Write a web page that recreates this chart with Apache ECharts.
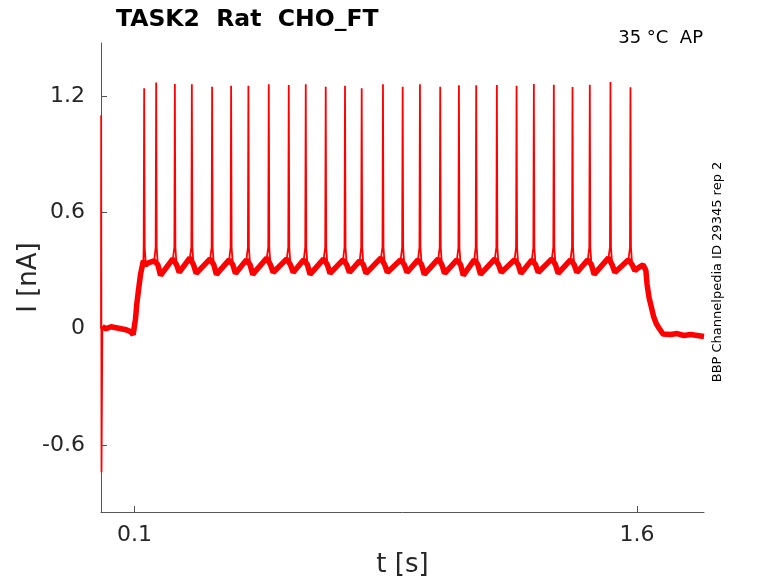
<!DOCTYPE html>
<html style="height: 100%">
<head>
    <meta charset="utf-8">
    <title>TASK2 Rat CHO_FT</title>
    <script src="https://cdn.jsdelivr.net/npm/echarts@6/dist/echarts.min.js"></script>
</head>
<body style="height: 100%; margin: 0; background: #fff">
<div id="chart1" style="width: 778px; height: 583px"></div>

<script type="text/javascript">
    // spike times [s] and peak currents [nA]
    var spikeTimes = [0.1289, 0.1647, 0.2205, 0.2712, 0.3317, 0.3884, 0.4400, 0.5008, 0.5605,
        0.6112, 0.6708, 0.7284, 0.7782, 0.8417, 0.9005, 0.9521, 1.0126, 1.0684, 1.1200,
        1.1817, 1.2405, 1.2921, 1.3517, 1.4075, 1.4591, 1.5208, 1.5805];
    var spikePeaks = [1.240, 1.269, 1.262, 1.260, 1.248, 1.253, 1.253, 1.260, 1.257,
        1.260, 1.248, 1.253, 1.240, 1.260, 1.248, 1.260, 1.248, 1.255, 1.255,
        1.257, 1.252, 1.262, 1.258, 1.246, 1.258, 1.272, 1.245];
    // level just after each spike (after-hyperpolarisation trough)
    var troughs = [0.340, 0.275, 0.290, 0.285, 0.280, 0.285, 0.280, 0.290, 0.290,
        0.280, 0.285, 0.290, 0.285, 0.290, 0.290, 0.280, 0.285, 0.275, 0.280,
        0.290, 0.285, 0.290, 0.285, 0.290, 0.280, 0.290, 0.300];
    // level just before spikes 2..27
    var preLevels = [0.350, 0.360, 0.365, 0.360, 0.355, 0.355, 0.365, 0.360, 0.355,
        0.360, 0.355, 0.350, 0.365, 0.355, 0.355, 0.360, 0.355, 0.355, 0.360,
        0.355, 0.355, 0.360, 0.355, 0.355, 0.365, 0.355];
    var spikeFoot = 0.42;

    // before the step: capacitive transient then holding level
    var transient = [[0, 0.0], [0.0005, 1.10], [0.0015, -0.74], [0.004, 0.01]];
    var holding = [[0.004, 0.01], [0.015, 0.0], [0.03, 0.01], [0.045, 0.005], [0.06, 0.0],
        [0.075, -0.005], [0.088, -0.015], [0.096, -0.03], [0.100, -0.03]];
    // step onset ramp
    var onset = [[0.103, 0.05], [0.107, 0.13], [0.112, 0.20], [0.118, 0.28], [0.124, 0.33], [0.1265, 0.35]];
    // plateau after the last spike and the step offset
    var offset = [[1.605, 0.315], [1.618, 0.330], [1.6231, 0.335], [1.6265, 0.30], [1.6300, 0.23],
        [1.636, 0.16], [1.6431, 0.11], [1.650, 0.06], [1.6580, 0.024], [1.667, 0.0],
        [1.6777, -0.027], [1.70, -0.030], [1.72, -0.025], [1.74, -0.035], [1.76, -0.030],
        [1.78, -0.035], [1.80, -0.040]];

    var xTicks = [0.1, 1.6];
    var yTicks = [-0.6, 0, 0.6, 1.2];

    // full trace and a thicker copy without the spike tips (noise band)
    var trace = transient.slice();
    var band = holding.slice();
    holding.forEach(function (p) { trace.push(p); });
    onset.forEach(function (p) { trace.push(p); band.push(p); });
    spikeTimes.forEach(function (t, i) {
        if (i > 0) {
            trace.push([t - 0.006, preLevels[i - 1]]);
            band.push([t - 0.006, preLevels[i - 1]]);
        }
        trace.push([t - 0.0015, spikeFoot]);
        trace.push([t, spikePeaks[i]]);
        trace.push([t + 0.0015, spikeFoot]);
        trace.push([t + 0.005, 0.33]);
        band.push([t + 0.005, 0.33]);
        trace.push([t + 0.013, troughs[i]]);
        band.push([t + 0.013, troughs[i]]);
    });
    offset.forEach(function (p) { trace.push(p); band.push(p); });

    var myChart1 = echarts.init(document.getElementById('chart1'));
    var font = 'DejaVu Sans';
    var axisColor = '#555555';
    var textColor = '#262626';

    myChart1.setOption({
        animation: false,
        title: {
            text: 'TASK2  Rat  CHO_FT',
            left: 111,
            top: 3,
            textStyle: {fontFamily: font, fontSize: 23.5, fontWeight: 'bold', color: '#000'}
        },
        grid: {left: 101, right: 74, top: 43, bottom: 71, outerBoundsMode: 'none', containLabel: false},
        xAxis: {
            type: 'value',
            min: 0,
            max: 1.8,
            name: 't [s]',
            nameLocation: 'middle',
            nameGap: 40,
            nameMoveOverlap: false,
            nameTextStyle: {fontFamily: font, fontSize: 26, color: textColor},
            splitLine: {show: false},
            axisLine: {onZero: false, lineStyle: {color: axisColor, width: 1}},
            axisTick: {inside: true, length: 6, customValues: xTicks, lineStyle: {color: axisColor}},
            axisLabel: {customValues: xTicks, margin: 12, fontFamily: font, fontSize: 22, color: textColor}
        },
        yAxis: {
            type: 'value',
            min: -0.945,
            max: 1.473,
            name: 'I [nA]',
            nameLocation: 'middle',
            nameGap: 59,
            nameMoveOverlap: false,
            nameTextStyle: {fontFamily: font, fontSize: 26, color: textColor},
            splitLine: {show: false},
            axisLine: {show: true, onZero: false, lineStyle: {color: axisColor, width: 1}},
            axisTick: {show: true, inside: true, length: 6, customValues: yTicks, lineStyle: {color: axisColor}},
            axisLabel: {customValues: yTicks, margin: 16, fontFamily: font, fontSize: 22, color: textColor}
        },
        graphic: [
            {
                type: 'text',
                right: 75,
                top: 29,
                style: {text: '35 °C  AP', font: '18px "DejaVu Sans"', fill: '#000'}
            },
            {
                type: 'text',
                x: 718,
                y: 272,
                rotation: Math.PI / 2,
                style: {
                    text: 'BBP Channelpedia ID 29345 rep 2',
                    font: '13px "DejaVu Sans"',
                    fill: '#000',
                    align: 'center',
                    verticalAlign: 'middle'
                }
            }
        ],
        series: [
            {
                name: 'band',
                type: 'line',
                data: band,
                showSymbol: false,
                silent: true,
                lineStyle: {color: '#ff0000', width: 5.5},
                z: 2
            },
            {
                name: 'I',
                type: 'line',
                data: trace,
                showSymbol: false,
                lineStyle: {color: '#ff0000', width: 1.8},
                z: 3
            }
        ]
    });
</script>
</body>
</html>
